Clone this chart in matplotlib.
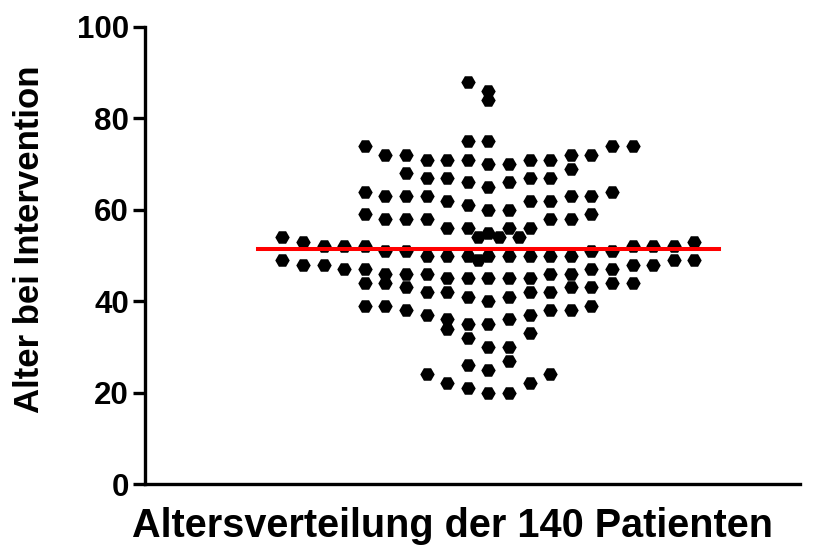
import numpy as np
import matplotlib
matplotlib.use('Agg')
import matplotlib.pyplot as plt

# ages of the 140 patients
ages = [54, 49, 53, 48, 52, 48, 52, 47,
        74, 64, 59, 52, 47, 44, 39,
        72, 63, 58, 51, 46, 44, 39,
        72, 68, 63, 58, 51, 46, 43, 38,
        71, 67, 63, 58, 50, 46, 42, 37, 24,
        71, 67, 62, 56, 50, 45, 42, 36, 34, 22,
        88, 75, 71, 66, 61, 56, 50, 45, 41, 35, 32, 26, 21,
        54, 49,
        84, 75, 70, 65, 60, 55, 50, 45, 40, 35, 30, 25, 20,
        54,
        86, 70, 66, 60, 56, 50, 45, 41, 36, 30, 27, 20,
        54,
        71, 67, 62, 56, 50, 45, 42, 37, 33, 22,
        71, 67, 62, 58, 50, 46, 42, 38, 24,
        72, 69, 63, 58, 50, 46, 43, 38,
        72, 63, 59, 51, 47, 43, 39,
        74, 64, 51, 47, 44,
        74, 52, 48, 44,
        52, 48, 52, 49, 53, 49]
yticks = [0, 20, 40, 60, 80, 100]
ylabel = 'Alter bei Intervention'
xlabel = 'Altersverteilung der 140 Patienten'


def swarm_x(values, bin_width=5, max_per_row=21):
    # Prism-like layout: rows of 5 years, sorted values spread out from the centre
    values = np.asarray(values, dtype=float)
    xs = np.zeros(len(values))
    rows = np.floor((values - values.min()) / bin_width).astype(int)
    for k in np.unique(rows):
        idx = np.where(rows == k)[0]
        idx = idx[np.argsort(values[idx], kind='stable')]
        s = 1 if k % 2 == 0 else -1
        for i, p in enumerate(idx):
            j = i % max_per_row
            sub = i // max_per_row
            step = (j + 1) // 2
            pos = step * s if j % 2 == 1 else -step * s
            xs[p] = pos + sub * 0.5 * s
    return xs


plt.rcParams['font.family'] = ['Liberation Sans', 'DejaVu Sans']
plt.rcParams['font.weight'] = 'bold'

x = swarm_x(ages)
mean_age = np.mean(ages)

fig = plt.figure(figsize=(8.26, 5.59), dpi=100)
ax = fig.add_axes([145 / 826, 75 / 559, 655 / 826, 457 / 559])

ax.plot(x, ages, linestyle='none', marker='H', markersize=10.4,
        markeredgewidth=0, color='black', zorder=2)
half = np.abs(x).max() + 1.2
ax.plot([-half, half], [mean_age, mean_age], color='red', lw=2.9, zorder=3)

ax.set_xlim(-16.67, 15.13)
ax.set_ylim(0, 100)
ax.set_yticks(yticks)
ax.set_xticks([])
for side in ['top', 'right']:
    ax.spines[side].set_visible(False)
for side in ['left', 'bottom']:
    ax.spines[side].set_linewidth(2.4)
ax.tick_params(axis='y', length=8.5, width=2.4, labelsize=22.5, pad=3)

fig.text(30 / 826, 1 - 239 / 559, ylabel, rotation=90, ha='center', va='center',
         fontsize=25, fontweight='bold')
fig.text(452 / 826, 1 - 526 / 559, xlabel, ha='center', va='center',
         fontsize=28.5, fontweight='bold')

fig.savefig('out.png', dpi=100)
